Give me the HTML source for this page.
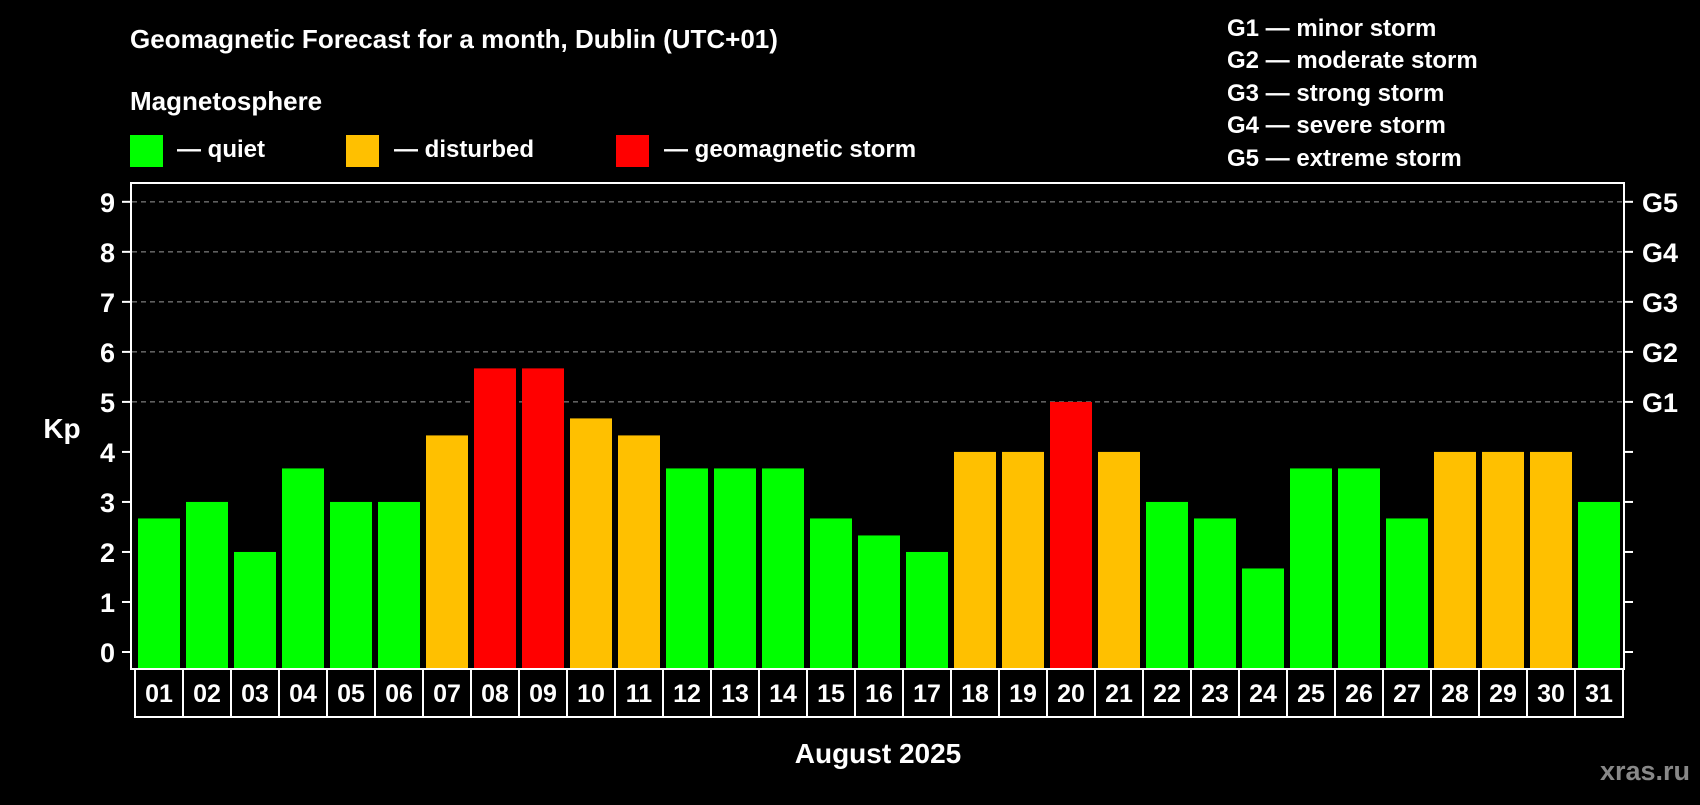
<!DOCTYPE html>
<html><head><meta charset="utf-8"><style>
body{margin:0;background:#000;width:1700px;height:800px;overflow:hidden;font-family:"Liberation Sans",sans-serif;font-weight:bold;color:#fff}
svg text{font-family:"Liberation Sans",sans-serif;font-weight:bold}
</style></head><body>
<svg id="chart" width="1700" height="800" viewBox="0 0 1700 800">
<text x="130" y="48" font-size="26" fill="#fff">Geomagnetic Forecast for a month, Dublin (UTC+01)</text>
<text x="130" y="110" font-size="26" fill="#fff">Magnetosphere</text>
<g><rect x="130" y="135" width="33" height="32" fill="#00ff00"/><text x="177" y="157" font-size="24" fill="#fff">— quiet</text></g>
<g><rect x="346" y="135" width="33" height="32" fill="#ffc000"/><text x="394" y="157" font-size="24" fill="#fff">— disturbed</text></g>
<g><rect x="616" y="135" width="33" height="32" fill="#ff0000"/><text x="664" y="157" font-size="24" fill="#fff">— geomagnetic storm</text></g>
<g font-size="24" fill="#fff">
<text x="1227" y="36">G1 — minor storm</text>
<text x="1227" y="68">G2 — moderate storm</text>
<text x="1227" y="101">G3 — strong storm</text>
<text x="1227" y="133">G4 — severe storm</text>
<text x="1227" y="166">G5 — extreme storm</text>
</g>
<text x="62" y="438" font-size="28" fill="#fff" text-anchor="middle">Kp</text>
<text x="878" y="763" font-size="28" fill="#fff" text-anchor="middle">August 2025</text>
<text x="1690" y="780" font-size="27" fill="#888" text-anchor="end">xras.ru</text>
<g id="grid"></g><g id="bars"></g><g id="dates"></g><g id="axes"></g>
<rect x="131" y="183" width="1493" height="486" fill="none" stroke="#fff" stroke-width="2"/>
</svg>
<script>
const days = ["01","02","03","04","05","06","07","08","09","10","11","12","13","14","15","16","17","18","19","20","21","22","23","24","25","26","27","28","29","30","31"];
const kpValues = [2.67,3,2,3.67,3,3,4.33,5.67,5.67,4.67,4.33,3.67,3.67,3.67,2.67,2.33,2,4,4,5,4,3,2.67,1.67,3.67,3.67,2.67,4,4,4,3];
const yTicks = [0,1,2,3,4,5,6,7,8,9];
const gLabels = ["","","","","","G1","G2","G3","G4","G5"];
const NS="http://www.w3.org/2000/svg";
const y0=652, unit=50.02, x0=138, pitch=48, bw=42, plotBottom=669;
const Y=v=>y0-v*unit, X=i=>x0+i*pitch;
function mk(t,a,p){const e=document.createElementNS(NS,t);for(const k in a)e.setAttribute(k,a[k]);p.appendChild(e);return e;}
const grid=document.getElementById('grid'),bars=document.getElementById('bars'),dates=document.getElementById('dates'),axes=document.getElementById('axes');
yTicks.forEach((v,i)=>{
  const y=Y(v);
  if(v>=5){const g=mk('line',{x1:132,x2:1623,y1:y,y2:y,stroke:'#999','stroke-width':1,'stroke-dasharray':'5,4'},grid);
  
  }
  const t=mk('line',{x1:122,x2:131,y1:y,y2:y,stroke:'#fff','stroke-width':2},axes);
  
  
  const t2=mk('line',{x1:1624,x2:1633,y1:y,y2:y,stroke:'#fff','stroke-width':2},axes);
  
  
  const l=mk('text',{x:115,y:y+10,'font-size':27,fill:'#fff','text-anchor':'end'},axes);l.textContent=v;
  
  
  if(gLabels[i]){const g=mk('text',{x:1642,y:y+10,'font-size':27,fill:'#fff'},axes);g.textContent=gLabels[i];
  
  }
});
kpValues.forEach((v,i)=>{
  const c=v>=5?'#ff0000':(v>=4?'#ffc000':'#00ff00');
  const b=mk('rect',{x:X(i),y:Y(v),width:bw,height:plotBottom-Y(v),fill:c},bars);
  
  
  const r=mk('rect',{x:X(i)-3,y:669,width:48,height:48,fill:'none',stroke:'#fff','stroke-width':2},dates);
  
  
  const t=mk('text',{x:X(i)+bw/2,y:702,'font-size':25,fill:'#fff','text-anchor':'middle'},dates);t.textContent=days[i];
  
  
});
</script>
</body></html>
